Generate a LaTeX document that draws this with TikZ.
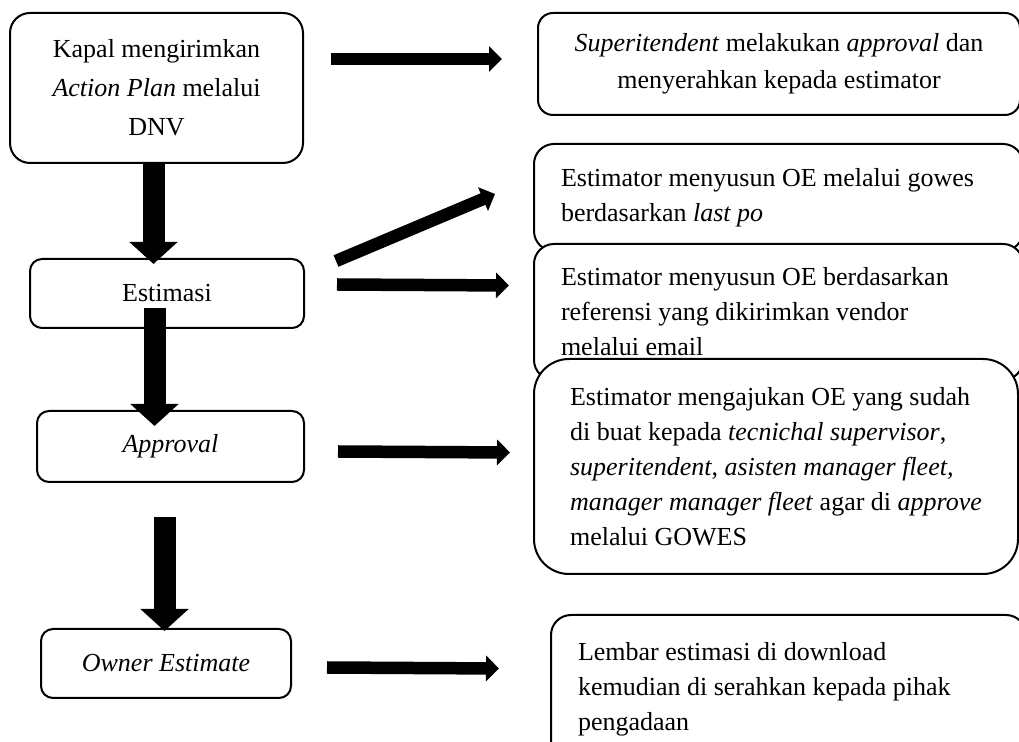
\documentclass[tikz,border=0pt]{standalone}
\usepackage{fontspec}
\setmainfont{Liberation Serif}
\usetikzlibrary{arrows.meta, positioning, calc}

\begin{document}
\begin{tikzpicture}[x=0.5pt, y=-0.5pt,
        leftbox/.style={draw, fill=white, line width=1pt, rounded corners=6pt, inner sep=0pt, align=center, font=\fontsize{13pt}{19.5pt}\selectfont},
        rightbox/.style={draw, fill=white, line width=1pt, rounded corners=10pt, anchor=north west, align=flush left, inner xsep=13.5pt, inner ysep=0pt, font=\fontsize{13pt}{17.5pt}\selectfont},
        downarrow/.style={line width=11pt, -{Triangle[width=23.5pt, length=11pt]}},
        sidearrow/.style={line width=6.25pt, -{Triangle[width=12.5pt, length=6.5pt]}}]
        \clip (0, 0) rectangle (1019, 742);

        \node[leftbox, rounded corners=10pt, minimum width=146.5pt, minimum height=75pt] (kapal) at (156.5, 88) {Kapal mengirimkan\\\textit{Action Plan} melalui\\DNV};
        \node[leftbox, minimum width=137pt, minimum height=34.5pt] (estimasi) at (167, 293.5) {Estimasi};
        \node[leftbox, minimum width=133.5pt, minimum height=35.5pt] (approval) at (170.5, 446.5) {\textit{Approval}};
        \node[leftbox, minimum width=125pt, minimum height=34.5pt] (owner) at (166, 663.5) {\textit{Owner Estimate}};

        \node[rightbox, anchor=center, align=center, rounded corners=7.5pt, minimum width=241pt, minimum height=51pt, font=\fontsize{13pt}{18.5pt}\selectfont] (superit) at (779, 64) {\textit{Superitendent} melakukan \textit{approval} dan\\menyerahkan kepada estimator};
        \node[rightbox, text width=217.5pt, minimum height=53.5pt] (lastpo) at (533, 143) {Estimator menyusun OE melalui gowes\\berdasarkan \textit{last po}};
        \node[rightbox, text width=217.5pt, minimum height=68pt] (referensi) at (533, 243) {Estimator menyusun OE berdasarkan\\referensi yang dikirimkan vendor\\melalui email};
        \node[rightbox, rounded corners=17.5pt, minimum width=242pt, minimum height=107.5pt] (ajukan) at (533, 358) {Estimator mengajukan OE yang sudah\\di buat kepada \textit{tecnichal supervisor},\\\textit{superitendent}, \textit{asisten manager fleet,}\\\textit{manager manager fleet} agar di \textit{approve}\\melalui GOWES};
        \node[rightbox, text width=210.5pt, minimum height=74pt] (lembar) at (550, 614) {Lembar estimasi di download\\kemudian di serahkan kepada pihak\\pengadaan};

        \draw[downarrow] ($(kapal.south)+(-3, 0)$) -- ($(estimasi.north)+(-13.5, 6)$);
        \draw[downarrow] ($(estimasi.south)+(-12.5, -21)$) -- ($(approval.north)+(-16, 16)$);
        \draw[downarrow] ($(approval.south)+(-6, 34)$) -- ($(owner.north)+(-1.5, 3)$);

        \draw[sidearrow] ($(kapal.east)+(27, -29)$) -- ($(superit.west)+(-35, -5)$);
        \draw[sidearrow] ($(estimasi.east)+(31, -32.5)$) -- ($(lastpo.west)+(-38, -3.5)$);
        \draw[sidearrow] ($(estimasi.east)+(32, -9)$) -- ($(referensi.west)+(-24, -26.5)$);
        \draw[sidearrow] ($(approval.east)+(33, 5)$) -- ($(ajukan.west)+(-23, -14)$);
        \draw[sidearrow] ($(owner.east)+(35, 4)$) -- ($(lembar.west)+(-51, -20.5)$);
      \end{tikzpicture}
\end{document}
